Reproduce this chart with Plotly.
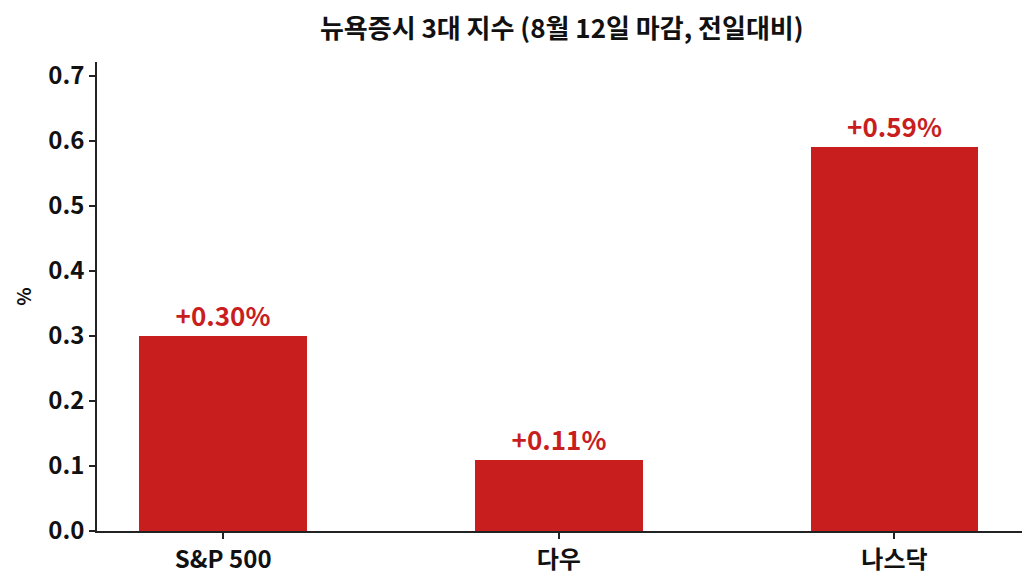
import plotly.graph_objects as go

# 뉴욕증시 3대 지수 등락률 (8월 12일 마감)
indices = ["S&P 500", "다우", "나스닥"]
changes = [0.30, 0.11, 0.59]
labels = ["+0.30%", "+0.11%", "+0.59%"]

FONT = "Noto Sans CJK KR"
RED = "#c81e1e"


def build_graph():
    fig = go.Figure()
    fig.add_trace(go.Bar(
        x=list(range(len(indices))), y=changes, width=0.5,
        marker=dict(color=RED, line=dict(width=0)),
        text=labels, textposition="outside", cliponaxis=False,
        textfont=dict(family=FONT, size=26, color=RED, weight="bold"),
    ))
    # 페이지 body 여백(8px)을 감안해 margin 조정
    fig.update_layout(
        width=1035, height=585,
        margin=dict(l=89, r=21, t=54, b=62),
        plot_bgcolor="white", paper_bgcolor="white",
        font=dict(family=FONT, color="#111"),
        title=dict(text="<b>뉴욕증시 3대 지수 (8월 12일 마감, 전일대비)</b>",
                   x=0.535, xanchor="center", y=0.965, yanchor="middle",
                   font=dict(size=26, color="#111")),
        showlegend=False,
        bargap=0,
    )
    fig.update_xaxes(
        tickmode="array", tickvals=list(range(len(indices))), ticktext=indices,
        range=[-0.376, 2.38], showline=True, linecolor="#222", linewidth=1.5,
        ticks="outside", ticklen=6, tickcolor="#222", tickwidth=1.5,
        tickfont=dict(size=24, weight="bold"), showgrid=False, zeroline=False,
    )
    fig.update_yaxes(
        range=[0, 0.7215], dtick=0.1, tickformat=".1f",
        showline=True, linecolor="#222", linewidth=1.5,
        ticks="outside", ticklen=6, tickcolor="#222", tickwidth=1.5,
        tickfont=dict(size=24, weight="bold"), showgrid=False, zeroline=False,
        title=dict(text="%", font=dict(size=19, weight="bold"), standoff=12),
    )
    return fig


def main():
    fig = build_graph()
    fig.write_html("out.html")


if __name__ == "__main__":
    main()
